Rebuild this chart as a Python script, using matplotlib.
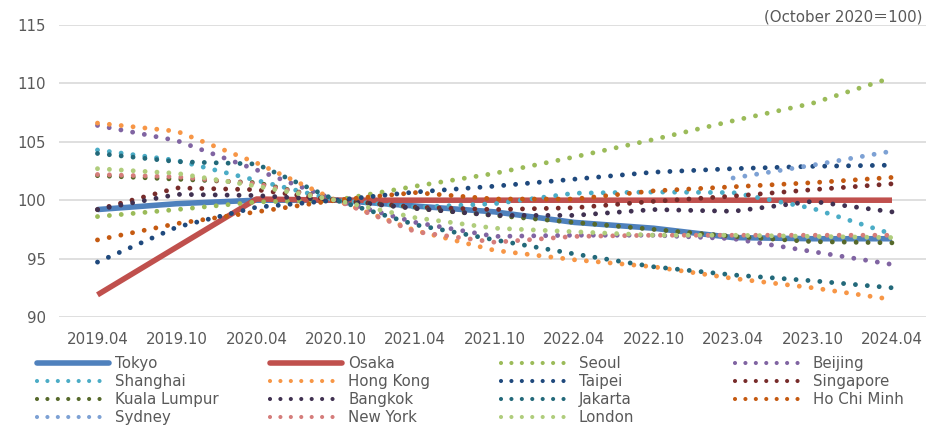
import numpy as np
import matplotlib
matplotlib.use("Agg")
import matplotlib.pyplot as plt
from matplotlib.lines import Line2D

# Half-year periods on the horizontal axis
periods = ["2019.04", "2019.10", "2020.04", "2020.10", "2021.04", "2021.10",
           "2022.04", "2022.10", "2023.04", "2023.10", "2024.04"]

# Index values (October 2020 = 100)
tokyo = [99.2, 99.7, 100.0, 100.0, 99.5, 99.0, 98.1, 97.6, 96.8, 96.7, 96.7]
osaka = [91.9, 96.0, 100.1, 100.0, 100.0, 100.0, 100.0, 100.0, 100.0, 100.0, 100.0]
seoul = [98.6, 99.2, 99.85, 100.0, 101.2, 102.3, 103.7, 105.2, 106.8, 108.3, 110.5]
beijing = [106.4, 105.1, 102.6, 100.0, 98.1, 96.9, 97.0, 97.0, 96.7, 95.6, 94.5]
shanghai = [104.3, 103.4, 101.7, 100.0, 99.4, 99.7, 100.6, 100.7, 100.65, 99.3, 97.1]
hong_kong = [106.6, 105.9, 103.2, 100.0, 97.4, 95.7, 94.9, 94.3, 93.3, 92.5, 91.5]
taipei = [94.7, 97.7, 99.4, 100.0, 100.7, 101.2, 101.8, 102.4, 102.7, 102.9, 103.0]
singapore = [99.2, 101.05, 100.9, 100.0, 99.4, 99.2, 99.35, 99.9, 100.35, 100.9, 101.4]
kuala_lumpur = [102.1, 101.8, 101.5, 100.0, 99.3, 98.7, 98.1, 97.5, 96.9, 96.45, 96.35]
bangkok = [99.2, 100.5, 100.4, 100.0, 99.3, 98.7, 98.7, 99.2, 99.05, 99.9, 99.0]
jakarta = [104.0, 103.3, 103.1, 100.0, 97.9, 96.6, 95.4, 94.3, 93.6, 93.1, 92.5]
ho_chi_minh = [96.6, 98.0, 99.0, 100.0, 100.65, 100.1, 100.1, 100.8, 101.15, 101.5, 101.95]
sydney = [np.nan] * 8 + [101.9, 103.0, 104.2]
new_york = [102.2, 102.0, 101.4, 100.0, 97.3, 96.4, 96.9, 97.0, 97.0, 97.0, 97.0]
london = [102.7, 102.3, 101.2, 100.0, 98.5, 97.6, 97.3, 97.0, 97.0, 96.9, 96.8]

cities = ["Tokyo", "Osaka", "Seoul", "Beijing", "Shanghai", "Hong Kong", "Taipei",
          "Singapore", "Kuala Lumpur", "Bangkok", "Jakarta", "Ho Chi Minh",
          "Sydney", "New York", "London"]
series = [tokyo, osaka, seoul, beijing, shanghai, hong_kong, taipei, singapore,
          kuala_lumpur, bangkok, jakarta, ho_chi_minh, sydney, new_york, london]
colors = ["#4F81BD", "#C0504D", "#9BBB59", "#8064A2", "#4BACC6", "#F79646",
          "#1F497D", "#772B2A", "#56692B", "#403151", "#23697A", "#C55A11",
          "#7DA1D4", "#D57D7B", "#B0CD7C"]
solid = {"Tokyo", "Osaka"}

W, H = 926, 425
fig = plt.figure(figsize=(W / 100, H / 100), dpi=100)
ax = fig.add_axes([59 / W, 1 - 317 / H, (926 - 59) / W, (317 - 25) / H])

x = np.arange(len(periods))
text_color = "#595959"
handles = []
for i, (name, vals, col) in enumerate(zip(cities, series, colors)):
    if name in solid:
        ax.plot(x, vals, color=col, lw=4.0, solid_capstyle="butt",
                solid_joinstyle="round", zorder=3 + i)
        hd = Line2D([], [], color=col, lw=4.0, solid_capstyle="round")
    else:
        ax.plot(x, vals, color=col, lw=3.5, linestyle=(0, (0.001, 2.45)),
                dash_capstyle="round", zorder=3 + i)
        hd = Line2D([], [], color=col, lw=3.0, linestyle=(0, (0.001, 2.5)),
                    dash_capstyle="round")
    handles.append(hd)

ax.set_xlim((59 - 97.5) / 79.45, (926 - 97.5) / 79.45)
ax.set_ylim(90, 115)
ax.set_yticks(np.arange(90, 116, 5))
ax.set_xticks(x)
ax.set_xticklabels(periods)
ax.grid(axis="y", color="#D9D9D9", lw=1.2, zorder=0)
ax.set_axisbelow(True)
for s in ax.spines.values():
    s.set_visible(False)
ax.tick_params(axis="both", length=0, labelsize=10.8, colors=text_color)
ax.tick_params(axis="y", pad=9.5)
ax.tick_params(axis="x", pad=11)

fig.text(923 / W, 1 - 17 / H, "(October 2020\uFF1D100)", ha="right", va="center",
         fontsize=10.8, color=text_color, family=["DejaVu Sans", "Noto Sans CJK JP"])

# Legend laid out row by row in four evenly spaced columns
col_x = [37, 270, 501, 735]
for c in range(4):
    idx = list(range(c, len(cities), 4))
    leg = fig.legend([handles[i] for i in idx], [cities[i] for i in idx],
                     loc="upper left", bbox_to_anchor=(col_x[c] / W, 1 - 356 / H),
                     frameon=False, fontsize=10.8, handlelength=4.8,
                     handletextpad=0.4, labelspacing=0.2, borderpad=0,
                     borderaxespad=0)
    for t in leg.get_texts():
        t.set_color(text_color)

fig.savefig("out.png", dpi=100)
